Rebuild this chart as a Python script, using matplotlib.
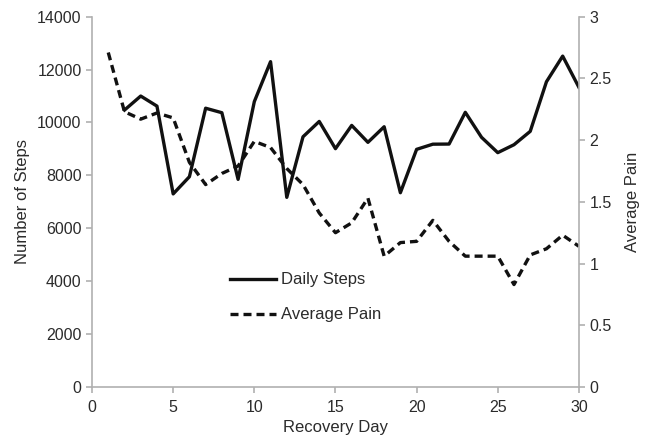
import numpy as np
import matplotlib.pyplot as plt

days_steps = list(range(2, 31))
steps = [10470, 11000, 10620, 7300, 7950, 10540, 10370, 7850, 10790, 12300,
         7170, 9460, 10040, 9010, 9890, 9250, 9840, 7345, 8985, 9180,
         9185, 10385, 9440, 8860, 9160, 9665, 11540, 12510, 11330]

days_pain = list(range(1, 31))
pain = [2.71, 2.23, 2.17, 2.22, 2.18, 1.82, 1.64, 1.73, 1.79, 1.99,
        1.94, 1.77, 1.64, 1.41, 1.25, 1.33, 1.53, 1.06, 1.17, 1.18,
        1.35, 1.18, 1.06, 1.06, 1.06, 0.83, 1.07, 1.12, 1.23, 1.14]

grey = '#b0b0b0'
txt = '#2b2b2b'
plt.rcParams['font.family'] = ['Liberation Sans', 'DejaVu Sans']

fig = plt.figure(figsize=(6.49, 4.37), dpi=100)
ax = fig.add_axes([0.1418, 0.1144, 0.892 - 0.1418, 0.9618 - 0.1144])
ax2 = ax.twinx()

l1, = ax.plot(days_steps, steps, color='#111111', lw=2.4, label='Daily Steps')
l2, = ax2.plot(days_pain, pain, color='#111111', lw=2.4, ls=(0, (2.4, 1.5)),
               label='Average Pain')

ax.set_xlim(0, 30)
ax.set_ylim(0, 14000)
ax2.set_ylim(0, 3)
ax.set_xticks(range(0, 31, 5))
ax.set_yticks(range(0, 14001, 2000))
ax2.set_yticks([0, 0.5, 1, 1.5, 2, 2.5, 3])
ax2.set_yticklabels(['0', '0.5', '1', '1.5', '2', '2.5', '3'])

for a in (ax, ax2):
    a.spines['top'].set_visible(False)
    for s in ('left', 'right', 'bottom'):
        a.spines[s].set_color(grey)
        a.spines[s].set_linewidth(1.2)
    a.tick_params(colors=grey, labelcolor=txt, labelsize=11.5, length=4, width=1.2)
ax.tick_params(axis='x', pad=5)
ax.spines['right'].set_visible(False)
ax2.spines['left'].set_visible(False)
ax2.spines['bottom'].set_visible(False)

ax.set_xlabel('Recovery Day', fontsize=12, color=txt, labelpad=4)
ax.set_ylabel('Number of Steps', fontsize=12, color=txt, labelpad=5)
ax2.set_ylabel('Average Pain', fontsize=12, color=txt, labelpad=10)

ax.legend([l1, l2], ['Daily Steps', 'Average Pain'], frameon=False,
          loc='upper left', bbox_to_anchor=(0.252, 0.35), fontsize=12,
          handlelength=2.75, handletextpad=0.3, labelspacing=1.2,
          labelcolor=txt)

fig.savefig('out.png', dpi=100)
